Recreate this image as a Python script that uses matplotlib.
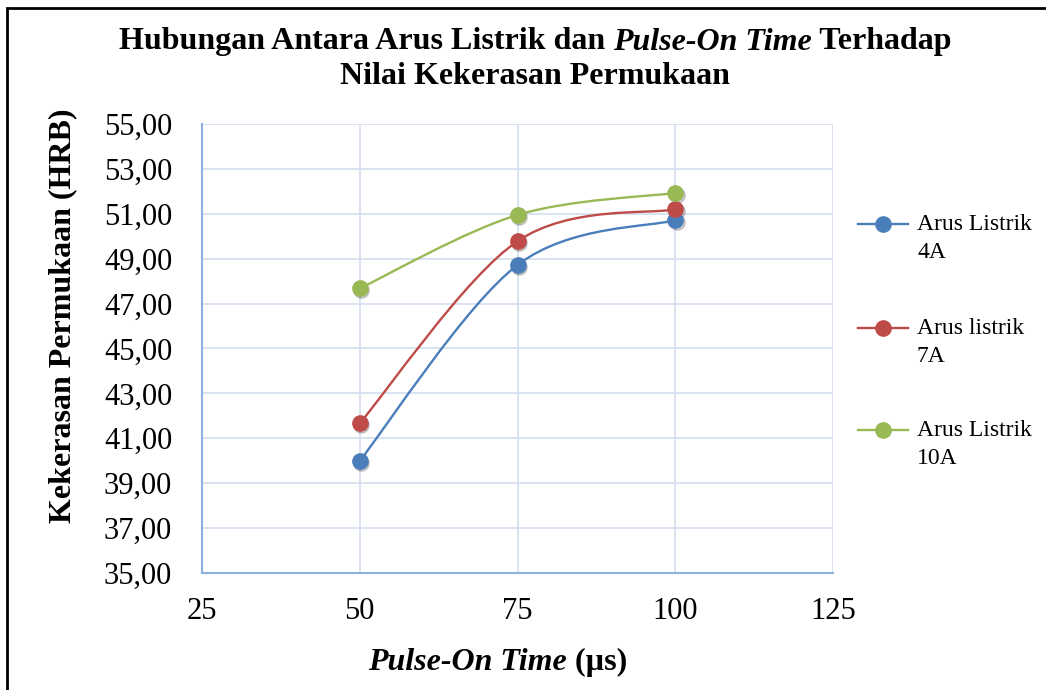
import numpy as np
import matplotlib
matplotlib.use("Agg")
from matplotlib import pyplot as plt
from matplotlib.path import Path
from matplotlib.patches import PathPatch, Rectangle
from matplotlib.lines import Line2D
from matplotlib.transforms import IdentityTransform, ScaledTranslation
from matplotlib.ticker import FuncFormatter

# data
pulse_on = [50, 75, 100]
arus_4a = [40.00, 48.72, 50.72]
arus_7a = [41.67, 49.78, 51.20]
arus_10a = [47.68, 50.95, 51.93]
labels = ["Arus Listrik\n4A", "Arus listrik\n7A", "Arus Listrik\n10A"]
colors = ["#4A7EBB", "#BE4B48", "#98B954"]
y_ticks = [35, 37, 39, 41, 43, 45, 47, 49, 51, 53, 55]
x_ticks = [25, 50, 75, 100, 125]

plt.rcParams["font.family"] = ["Liberation Serif", "DejaVu Serif"]
H = 690


def smooth_path(xs, ys):
    # excel-like smoothed line (bezier through the points)
    pts = np.column_stack([xs, ys]).astype(float)
    n = len(pts)
    verts = [pts[0]]
    codes = [Path.MOVETO]
    for i in range(n - 1):
        p0 = pts[max(i - 1, 0)]
        p1 = pts[i]
        p2 = pts[i + 1]
        p3 = pts[min(i + 2, n - 1)]
        c1 = p1 + (p2 - p0) / 6.0
        c2 = p2 - (p3 - p1) / 6.0
        verts += [c1, c2, p2]
        codes += [Path.CURVE4] * 3
    return Path(verts, codes)


def rich_text(fig, xc, y, parts, size, **kw):
    # draw pieces of text side by side, centred on xc (pixels)
    r = fig.canvas.get_renderer()
    objs = []
    for s, style in parts:
        t = fig.text(0, y, s, transform=IdentityTransform(), fontsize=size,
                     fontweight="bold", fontstyle=style, va="center", ha="left", **kw)
        objs.append(t)
    widths = [t.get_window_extent(r).width for t in objs]
    x = xc - sum(widths) / 2
    for t, w in zip(objs, widths):
        t.set_x(x)
        x += w


fig = plt.figure(figsize=(10.46, 6.90), dpi=100)
ax = fig.add_axes([202 / 1046, 1 - 573 / H, 631 / 1046, 449 / H])

shadow = ax.transData + ScaledTranslation(1.5 / 100, -2 / 100, fig.dpi_scale_trans)
series = [arus_4a, arus_7a, arus_10a]
for vals, c in zip(series, colors):
    ax.add_patch(PathPatch(smooth_path(pulse_on, vals), fill=False, ec=c, lw=1.7, zorder=3))
    ax.plot(pulse_on, vals, "o", ms=11, color="#000000", alpha=0.18, zorder=3, transform=shadow)
    ax.plot(pulse_on, vals, "o", ms=11, color=c, mec=c, zorder=4)

ax.set_xlim(25, 125)
ax.set_ylim(35, 55)
ax.set_xticks(x_ticks)
ax.set_yticks(y_ticks)
ax.yaxis.set_major_formatter(FuncFormatter(lambda v, p: f"{v:.2f}".replace(".", ",")))
ax.grid(True, color="#D5E1F1", lw=1.3)
ax.set_axisbelow(True)
for s in ["top", "right"]:
    ax.spines[s].set_visible(False)
for s in ["left", "bottom"]:
    ax.spines[s].set_color("#8DB0E0")
    ax.spines[s].set_linewidth(1.5)
ax.tick_params(length=0, labelsize=22)
ax.tick_params(axis="x", pad=17)
ax.tick_params(axis="y", pad=21.5)

# legend, drawn by hand so the marker sits on the first label line
leg_y = [224, 328, 430]
for y, c, lab in zip(leg_y, colors, labels):
    fig.add_artist(Line2D([858, 908], [H - y, H - y], color=c, lw=1.7,
                          transform=IdentityTransform()))
    fig.add_artist(Line2D([883], [H - y], color=c, marker="o", ms=11,
                          transform=IdentityTransform()))
    first, second = lab.split("\n")
    fig.text(917, H - y, first, transform=IdentityTransform(), fontsize=17, va="center")
    fig.text(917, H - y - 29, second, transform=IdentityTransform(), fontsize=17, va="center")

# chart border
fig.patches.append(Rectangle((7, -20), 1100, H - 8 + 20, transform=IdentityTransform(),
                             fill=False, ec="black", lw=2))

rich_text(fig, 535, H - 42, [("Hubungan Antara Arus Listrik dan ", "normal"),
                             ("Pulse-On Time", "italic"), (" Terhadap", "normal")], 23)
rich_text(fig, 535, H - 77, [("Nilai Kekerasan Permukaan", "normal")], 23)
rich_text(fig, 498, H - 662, [("Pulse-On Time", "italic"), (" (µs)", "normal")], 23)
fig.text(63, H - 316, "Kekerasan Permukaan (HRB)", transform=IdentityTransform(),
         fontsize=23, fontweight="bold", rotation=90, ha="center", va="center")

fig.savefig("out.png", dpi=100)
